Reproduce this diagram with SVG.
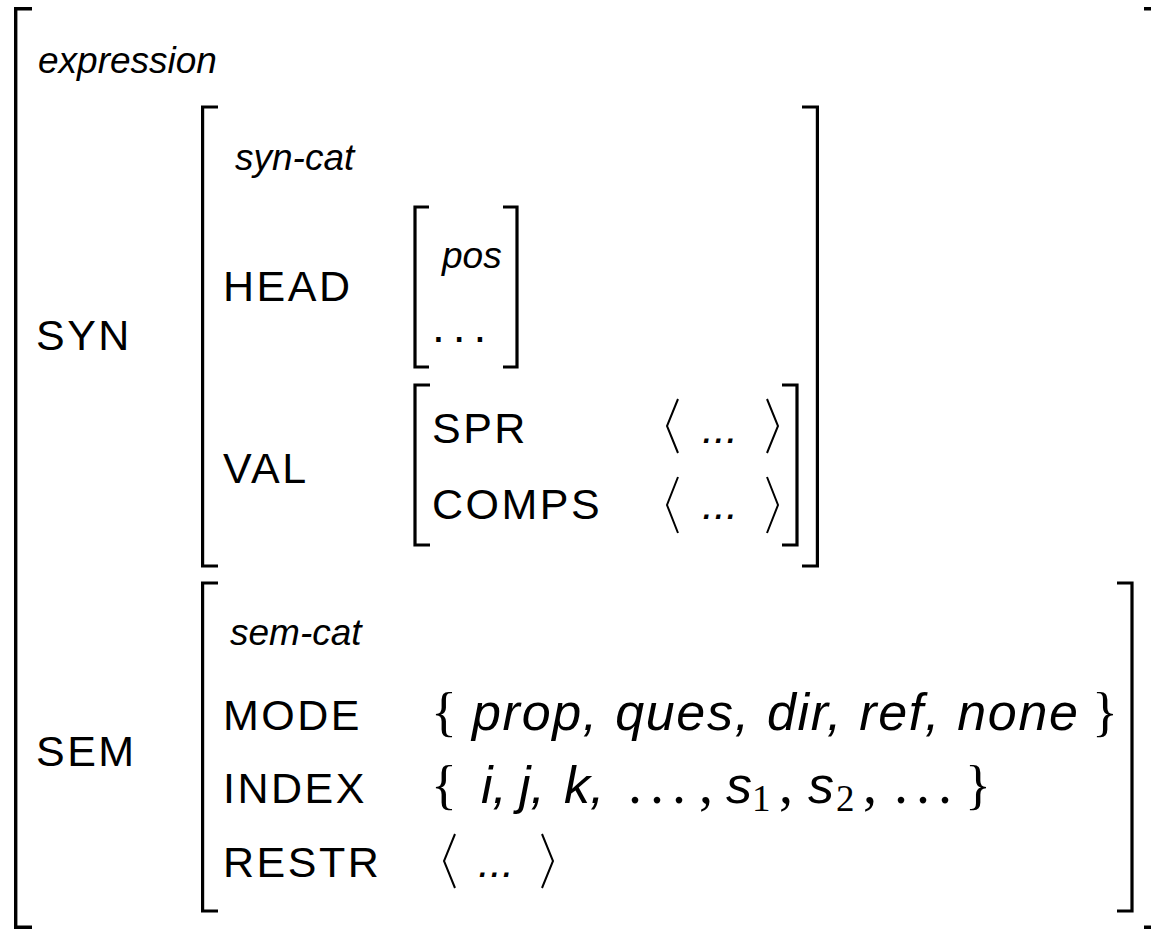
<svg xmlns="http://www.w3.org/2000/svg" width="1151" height="930" viewBox="0 0 1151 930">
<style>
.br{fill:none;stroke:#000;stroke-width:3.2;stroke-linejoin:miter}
.obr{fill:none;stroke:#000;stroke-width:3.4}
.ang{fill:none;stroke:#000;stroke-width:2;stroke-linejoin:miter}
.cap{font-family:"Liberation Sans",Arial,sans-serif;font-size:43px;letter-spacing:2.5px;fill:#000}
.typ{font-family:"Liberation Sans",Arial,sans-serif;font-style:italic;font-size:37px;fill:#000}
.val{font-family:"Liberation Sans",Arial,sans-serif;font-style:italic;font-size:52px;fill:#000}
.ell{font-family:"Liberation Sans",Arial,sans-serif;font-style:italic;font-size:43px;fill:#000}
.math{font-family:"Liberation Serif","Times New Roman",serif;fill:#000}
</style>
<rect width="1151" height="930" fill="#fff"/>
<g id="outer">
<path class="obr" d="M32 8.7H15.7V927.3H32"/>
<path class="obr" d="M1144 8.7H1162V927.3H1144"/>
<text class="typ" x="38" y="73" font-size="39">expression</text>
<text class="cap" x="36" y="350">SYN</text>
<text class="cap" x="36" y="766">SEM</text>
</g>
<g id="syn">
<path class="br" d="M218 107H202.6V566H218"/>
<path class="br" d="M802 107H817.4V566H802"/>
<text class="typ" x="235" y="170">syn-cat</text>
<text class="cap" x="223" y="301">HEAD</text>
<text class="cap" x="223" y="483">VAL</text>
</g>
<g id="head">
<path class="br" d="M429 207H415V367H429"/>
<path class="br" d="M503 207H517V367H503"/>
<text class="typ" x="442" y="268">pos</text>
<text font-family="Liberation Sans,Arial,sans-serif" font-size="46" x="432" y="342" letter-spacing="8" fill="#000">...</text>
</g>
<g id="val">
<path class="br" d="M430 385H415V545H430"/>
<path class="br" d="M782 385H797V545H782"/>
<text class="cap" x="432" y="443">SPR</text>
<path class="ang" d="M678 399L667 426L678 453"/>
<text class="ell" x="702" y="443">...</text>
<path class="ang" d="M767 399L778 426L767 453"/>
<text class="cap" x="432" y="519">COMPS</text>
<path class="ang" d="M678 477L667 505L678 533"/>
<text class="ell" x="702" y="519">...</text>
<path class="ang" d="M767 477L778 505L767 533"/>
</g>
<g id="sem">
<path class="br" d="M218 583H202.6V911H218"/>
<path class="br" d="M1117 583H1132V911H1117"/>
<text class="typ" x="230" y="645">sem-cat</text>
<text class="cap" x="223" y="730">MODE</text>
<text class="math" x="431" y="730" font-size="54">{</text>
<text class="val" x="472" y="730" textLength="606" lengthAdjust="spacing">prop, ques, dir, ref, none</text>
<text class="math" x="1092" y="730" font-size="54">}</text>
<text class="cap" x="223" y="803">INDEX</text>
<text class="math" x="431" y="803" font-size="54">{</text>
<text class="val" x="481" y="803">i,</text>
<text class="val" x="519" y="803">j,</text>
<text class="val" x="564" y="803">k,</text>
<text class="math" x="628" y="803" font-size="56" letter-spacing="8">...</text>
<text class="math" x="699" y="803" font-size="56">,</text>
<text class="val" x="726" y="803">s</text>
<text class="math" x="752" y="811" font-size="37">1</text>
<text class="math" x="779" y="803" font-size="56">,</text>
<text class="val" x="808" y="803">s</text>
<text class="math" x="836" y="811" font-size="37">2</text>
<text class="math" x="863" y="803" font-size="56">,</text>
<text class="math" x="894" y="803" font-size="56" letter-spacing="8">...</text>
<text class="math" x="965" y="803" font-size="54">}</text>
<text class="cap" x="223" y="877">RESTR</text>
<path class="ang" d="M455 834L444 861L455 888"/>
<text class="ell" x="478" y="877">...</text>
<path class="ang" d="M542 834L553 861L542 888"/>
</g>
</svg>
